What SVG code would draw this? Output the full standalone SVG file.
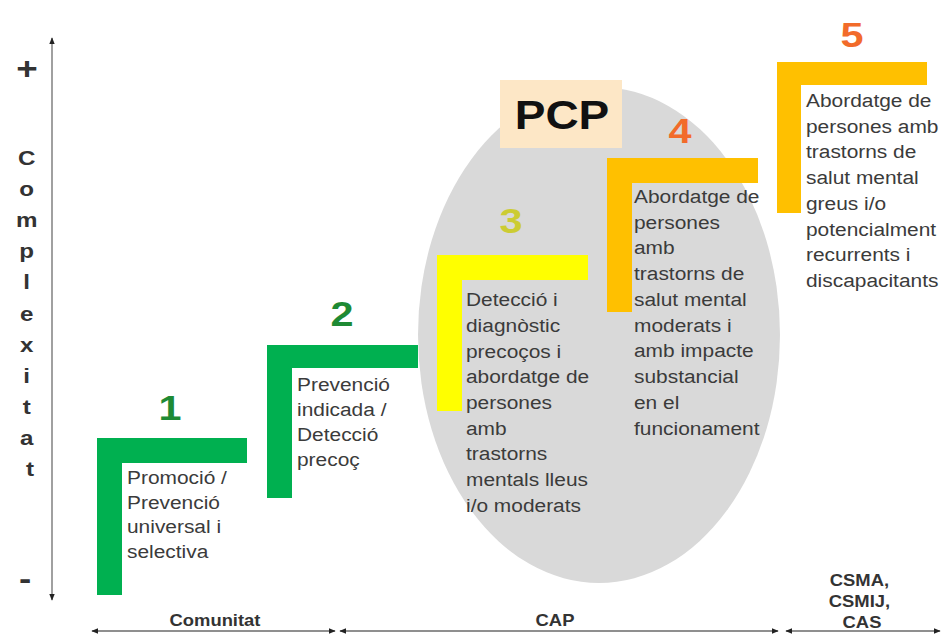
<svg xmlns="http://www.w3.org/2000/svg" width="942" height="636" viewBox="0 0 942 636">
<style>
.t{font-family:"Liberation Sans",Arial,sans-serif;font-size:19px;fill:#3b3b3b}
.n{font-family:"Liberation Sans",Arial,sans-serif;font-size:36px;font-weight:bold}
.b{font-family:"Liberation Sans",Arial,sans-serif;font-size:16px;font-weight:bold;fill:#333;text-anchor:middle}
.v{font-family:"Liberation Sans",Arial,sans-serif;font-size:21px;font-weight:bold;fill:#333;text-anchor:middle}
.ax{stroke:#808080;stroke-width:1.5;fill:none}
.bl{stroke:#6a6a6a;stroke-width:1.3;fill:none}
</style>
<defs>
<marker id="ah" viewBox="0 0 10 10" refX="9" refY="5" markerWidth="7" markerHeight="7" orient="auto-start-reverse" markerUnits="userSpaceOnUse">
<path d="M0,1 L10,5 L0,9 Z" fill="#222"/>
</marker>
</defs>
<rect width="942" height="636" fill="#fff"/>

<g id="axis">
<line class="ax" x1="52" y1="38" x2="52" y2="600" marker-start="url(#ah)" marker-end="url(#ah)"/>
<text class="v" transform="translate(27 79) scale(1.15 1)" style="font-size:32px">+</text>
<text class="v" transform="translate(25 589) scale(1.15 1)" style="font-size:32px">-</text>
<text class="v" transform="translate(30 0) scale(1.15 1)">
<tspan x="0" y="165">C</tspan>
<tspan x="0" y="196">o</tspan>
<tspan x="0" y="227">m</tspan>
<tspan x="0" y="258">p</tspan>
<tspan x="0" y="289">l</tspan>
<tspan x="0" y="321">e</tspan>
<tspan x="0" y="352">x</tspan>
<tspan x="0" y="383">i</tspan>
<tspan x="0" y="414">t</tspan>
<tspan x="0" y="445">a</tspan>
<tspan x="0" y="476">t</tspan>
</text>
</g>

<g id="pcp-area">
<ellipse cx="599" cy="335" rx="181" ry="248" fill="#d9d9d9"/>
<rect x="500" y="80" width="122" height="68" fill="#fde7c6"/>
<text class="n" transform="translate(562 129) scale(1.15 1)" style="font-size:40px;text-anchor:middle;fill:#111">PCP</text>
</g>

<g id="step1">
<path d="M97,438 H247 V463 H122 V595 H97 Z" fill="#00b050"/>
<text class="n" transform="translate(170 420) scale(1.15 1)" style="text-anchor:middle;fill:#1e8a34">1</text>
<text class="t" transform="translate(127 0) scale(1.1 1)">
<tspan x="0" y="484">Promoció /</tspan>
<tspan x="0" y="509">Prevenció</tspan>
<tspan x="0" y="533">universal i</tspan>
<tspan x="0" y="558">selectiva</tspan>
</text>
</g>

<g id="step2">
<path d="M267,345 H418 V368 H292 V498 H267 Z" fill="#00b050"/>
<text class="n" transform="translate(342 326) scale(1.15 1)" style="text-anchor:middle;fill:#1e8a34">2</text>
<text class="t" transform="translate(297 0) scale(1.1 1)">
<tspan x="0" y="391">Prevenció</tspan>
<tspan x="0" y="416">indicada /</tspan>
<tspan x="0" y="441">Detecció</tspan>
<tspan x="0" y="466">precoç</tspan>
</text>
</g>

<g id="step3">
<path d="M437,255 H588 V280 H462 V411 H437 Z" fill="#ffff00"/>
<text class="n" transform="translate(511 233) scale(1.15 1)" style="text-anchor:middle;fill:#cccc33">3</text>
<text class="t" transform="translate(466 0) scale(1.1 1)">
<tspan x="0" y="306">Detecció i</tspan>
<tspan x="0" y="332">diagnòstic</tspan>
<tspan x="0" y="358">precoços i</tspan>
<tspan x="0" y="383">abordatge de</tspan>
<tspan x="0" y="409">persones</tspan>
<tspan x="0" y="435">amb</tspan>
<tspan x="0" y="460">trastorns</tspan>
<tspan x="0" y="486">mentals lleus</tspan>
<tspan x="0" y="512">i/o moderats</tspan>
</text>
</g>

<g id="step4">
<path d="M607,158 H758 V183 H632 V312 H607 Z" fill="#ffc000"/>
<text class="n" transform="translate(680 143) scale(1.15 1)" style="text-anchor:middle;fill:#f26b2a">4</text>
<text class="t" transform="translate(634 0) scale(1.1 1)">
<tspan x="0" y="203">Abordatge de</tspan>
<tspan x="0" y="229">persones</tspan>
<tspan x="0" y="254">amb</tspan>
<tspan x="0" y="280">trastorns de</tspan>
<tspan x="0" y="306">salut mental</tspan>
<tspan x="0" y="332">moderats i</tspan>
<tspan x="0" y="357">amb impacte</tspan>
<tspan x="0" y="383">substancial</tspan>
<tspan x="0" y="409">en el</tspan>
<tspan x="0" y="435">funcionament</tspan>
</text>
</g>

<g id="step5">
<path d="M777,62 H927 V85 H801 V213 H777 Z" fill="#ffc000"/>
<text class="n" transform="translate(852 47) scale(1.15 1)" style="text-anchor:middle;fill:#f26b2a">5</text>
<text class="t" transform="translate(806 0) scale(1.1 1)">
<tspan x="0" y="107">Abordatge de</tspan>
<tspan x="0" y="133">persones amb</tspan>
<tspan x="0" y="158">trastorns de</tspan>
<tspan x="0" y="184">salut mental</tspan>
<tspan x="0" y="210">greus i/o</tspan>
<tspan x="0" y="236">potencialment</tspan>
<tspan x="0" y="261">recurrents i</tspan>
<tspan x="0" y="287">discapacitants</tspan>
</text>
</g>

<g id="connectors">
<line class="bl" x1="92" y1="631" x2="335" y2="631" marker-start="url(#ah)" marker-end="url(#ah)"/>
<line class="bl" x1="340" y1="631" x2="778" y2="631" marker-start="url(#ah)" marker-end="url(#ah)"/>
<line class="bl" x1="786" y1="631" x2="940" y2="631" marker-start="url(#ah)" marker-end="url(#ah)"/>
</g>

<g id="bottom-labels">
<text class="b" transform="translate(215 626) scale(1.15 1)">Comunitat</text>
<text class="b" transform="translate(555 626) scale(1.15 1)">CAP</text>
<text class="b" transform="translate(862 0) scale(1.15 1)">
<tspan x="0" y="586">CSMA,</tspan>
<tspan x="0" y="607">CSMIJ,</tspan>
<tspan x="0" y="628">CAS</tspan>
</text>
</g>
</svg>
